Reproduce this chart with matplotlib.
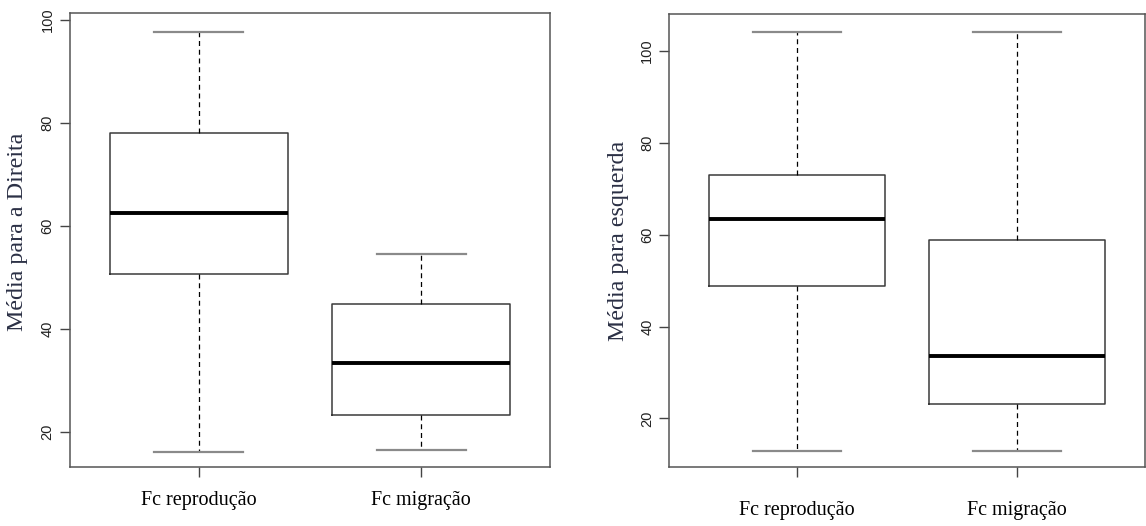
import matplotlib
matplotlib.use("Agg")
import matplotlib.pyplot as plt

# Valores (boxplots estilo R)
grupos = ["Fc reprodução", "Fc migração"]

# Média para a Direita
dir_min = [16.1, 16.4]
dir_q1 = [50.6, 23.2]
dir_med = [62.5, 33.4]
dir_q3 = [78.1, 44.8]
dir_max = [97.7, 54.6]

# Média para esquerda
esq_min = [12.8, 12.8]
esq_q1 = [48.8, 23.2]
esq_med = [63.4, 33.5]
esq_q3 = [73.1, 58.8]
esq_max = [104.1, 104.1]

y_ticks = [20, 40, 60, 80, 100]


def estatisticas(mn, q1, med, q3, mx):
    stats = []
    for i in range(len(grupos)):
        stats.append({"whislo": mn[i], "q1": q1[i], "med": med[i],
                      "q3": q3[i], "whishi": mx[i], "fliers": [],
                      "label": grupos[i]})
    return stats


def desenha(ax, stats, ylabel, ylim, pad):
    ax.bxp(stats, positions=[1, 2], widths=0.8, showfliers=False,
           boxprops=dict(color="#3a3a3a", linewidth=1.1),
           whiskerprops=dict(color="black", linewidth=0.9, linestyle=(0, (4, 3))),
           capprops=dict(color="#8a8a8a", linewidth=1.6),
           medianprops=dict(color="black", linewidth=2.8),
           capwidths=0.4)
    ax.set_xlim(0.42, 2.58)
    ax.set_ylim(*ylim)
    ax.set_yticks(y_ticks)
    ax.set_yticklabels([str(v) for v in y_ticks], rotation=90, va="center",
                       family="Liberation Sans", fontsize=10.5, color="#222222")
    ax.set_xticks([1, 2])
    ax.set_xticklabels(grupos, family="Liberation Serif", fontsize=14.5)
    ax.tick_params(axis="x", length=7, width=1, color="#444444", pad=pad)
    ax.tick_params(axis="y", length=7, width=1, color="#444444", pad=4)
    for s in ax.spines.values():
        s.set_color("#555555")
        s.set_linewidth(1.1)
    ax.set_ylabel(ylabel, family="Liberation Serif", fontsize=17.3, color="#2b3045")


fig = plt.figure(figsize=(11.46, 5.26), dpi=100)
ax1 = fig.add_axes([0.0611, 0.1122, 0.4188, 0.8631])
ax2 = fig.add_axes([0.5842, 0.1122, 0.4149, 0.8612])

desenha(ax1, estatisticas(dir_min, dir_q1, dir_med, dir_q3, dir_max),
        "Média para a Direita", (13.2, 101.3), 10)
desenha(ax2, estatisticas(esq_min, esq_q1, esq_med, esq_q3, esq_max),
        "Média para esquerda", (9.4, 108.1), 17.5)

ax1.yaxis.set_label_coords(-0.088, 0.518)
ax2.yaxis.set_label_coords(-0.085, 0.5)

fig.savefig("out.png", dpi=100)
